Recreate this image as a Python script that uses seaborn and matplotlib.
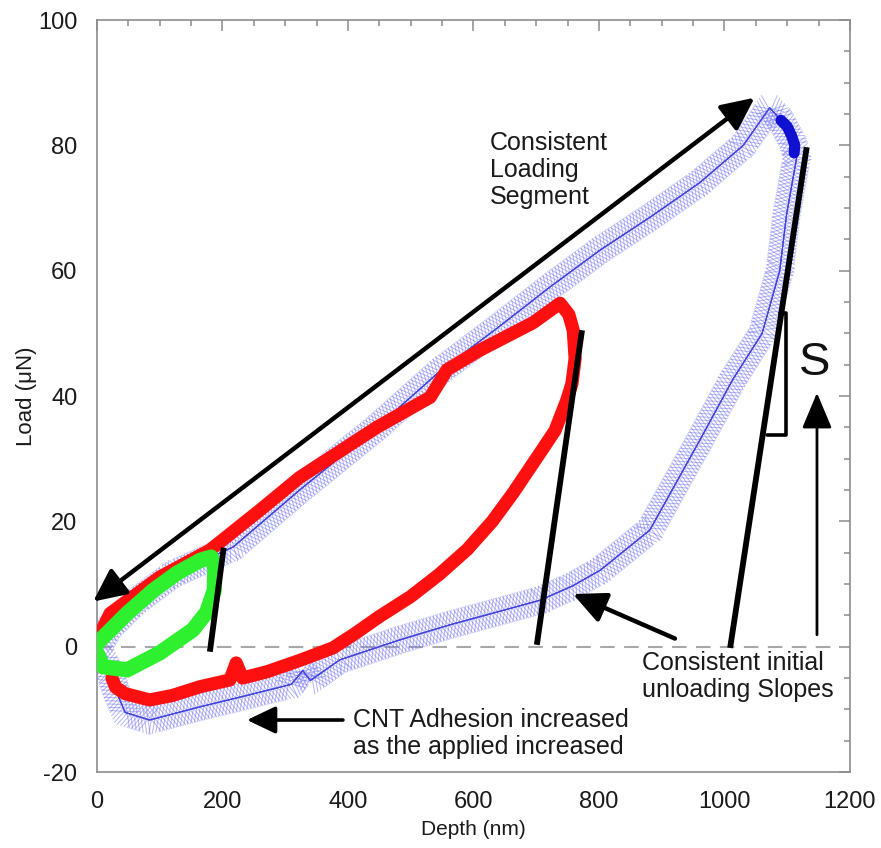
import matplotlib
matplotlib.use("Agg")
import matplotlib.pyplot as plt
import matplotlib.patheffects as pe
import seaborn as sns
import pandas as pd

# ---------------- data ----------------
blue_x = [0, 20, 60, 120, 217, 323, 446, 547, 640, 722, 802, 881, 960, 1030, 1072,
          1090, 1109, 1115, 1099, 1088, 1060, 1013, 961, 881, 802, 758, 706, 563,
          483, 387, 340, 328, 310, 230, 164, 84, 45, 32, 20, 8]
blue_y = [-0.5, 3, 7, 11.5, 15.9, 25, 35, 44, 51, 57.4, 63.3, 68.5, 74, 80, 86,
          84, 80.4, 78, 69, 60, 50, 42.6, 33, 18.6, 12.2, 9.7, 7.4, 3.5,
          1.1, -2.1, -5.4, -3.8, -6.0, -8.0, -9.6, -11.7, -10.5, -7.4, -4, -1.5]
blue_hold_x = [1090, 1100, 1107, 1112, 1111]
blue_hold_y = [84, 83, 81.5, 80, 78.8]

red_x = [0, 21, 100, 180, 260, 323, 446, 531, 558, 610, 695, 738,
         752, 759, 762, 757, 749, 730, 706, 663, 630, 590, 545, 500, 450, 410, 376,
         323, 271, 232, 222, 212, 164, 120, 84, 45, 30, 24]
red_y = [1, 5.3, 11.1, 15.4, 21.8, 27, 35, 39.8, 44.2, 47.3, 51.7, 54.8,
         53, 50.5, 46, 42, 39.4, 34.5, 30.9, 24.5, 20, 15.5, 11.5, 8, 4.8, 2, -0.2,
         -2.2, -4.0, -5.0, -2.6, -5.3, -6.4, -7.8, -8.5, -7.5, -6.5, -5]

green_x = [0, 20, 48, 90, 127, 165, 182, 188, 187, 175, 153, 100, 48, 10, 0]
green_y = [0.5, 2.5, 5.3, 9, 11.7, 13.8, 14.3, 12.5, 9, 5.5, 2.7, -1, -3.7, -3.2, -1]

# unloading-slope guide lines (depth, load)
slope_green_x = [180, 202]
slope_green_y = [-0.8, 15.8]
slope_red_x = [701, 773]
slope_red_y = [0.3, 50.5]
slope_blue_x = [1009, 1131]
slope_blue_y = [-0.2, 79.7]
tri_x = [1088, 1098, 1098, 1068]
tri_y = [53.2, 53.2, 33.8, 33.8]

x_ticks = [0, 200, 400, 600, 800, 1000, 1200]
y_ticks = [-20, 0, 20, 40, 60, 80, 100]

# ---------------- figure ----------------
sns.set_style("white")
plt.rcParams['font.family'] = ['Liberation Sans', 'DejaVu Sans']
plt.rcParams['axes.unicode_minus'] = False

fig = plt.figure(figsize=(8.81, 8.48), dpi=100)
ax = fig.add_axes([0.110, 0.0896, 0.8548, 0.8868])

ax.axhline(0, color='#a8a8a8', lw=1.5, ls=(0, (7, 4.5)), zorder=1)

# blue (large indent) - hatched band
tick_col = (0.42, 0.42, 0.98, 0.5)
sp, ln, tw = 2.6, 4.2, 0.7
blue_pe = [
    pe.withTickedStroke(angle=65, spacing=sp, length=ln, linewidth=tw, foreground=tick_col),
    pe.withTickedStroke(angle=-115, spacing=sp, length=ln, linewidth=tw, foreground=tick_col),
    pe.withTickedStroke(angle=115, spacing=sp, length=ln, linewidth=tw, foreground=tick_col),
    pe.withTickedStroke(angle=-65, spacing=sp, length=ln, linewidth=tw, foreground=tick_col),
    pe.Normal(),
]
dfb = pd.DataFrame({"x": blue_x, "y": blue_y})
sns.lineplot(data=dfb, x="x", y="y", sort=False, estimator=None, ax=ax,
             color=(0.25, 0.25, 0.85, 0.6), lw=0.8, path_effects=blue_pe, zorder=2)
dfh = pd.DataFrame({"x": blue_hold_x, "y": blue_hold_y})
sns.lineplot(data=dfh, x="x", y="y", sort=False, estimator=None, ax=ax,
             color='#1010d0', lw=8, solid_capstyle='round', zorder=2)

# red (medium indent)
dfr = pd.DataFrame({"x": red_x, "y": red_y})
sns.lineplot(data=dfr, x="x", y="y", sort=False, estimator=None, ax=ax,
             color='#ff1010', lw=9.5, solid_capstyle='round', solid_joinstyle='round', zorder=3)

# green (small indent)
dfg = pd.DataFrame({"x": green_x, "y": green_y})
sns.lineplot(data=dfg, x="x", y="y", sort=False, estimator=None, ax=ax,
             color='#2ef02e', lw=11, solid_capstyle='round', solid_joinstyle='round', zorder=4)

# slope lines
for sx, sy in [(slope_green_x, slope_green_y), (slope_red_x, slope_red_y), (slope_blue_x, slope_blue_y)]:
    ax.plot(sx, sy, color='black', lw=4.2, solid_capstyle='butt', zorder=5)
ax.plot(tri_x, tri_y, color='black', lw=2.6, zorder=5)

# arrows
big = dict(arrowstyle='<|-|>,head_length=0.8,head_width=0.38', lw=3.2, color='black',
           mutation_scale=25, shrinkA=0, shrinkB=0)
ax.annotate("", xy=(1048, 87.6), xytext=(-6, 7.2), arrowprops=big, annotation_clip=False, zorder=6)
ax.annotate("", xy=(758.6, 8.4), xytext=(921, 1.3),
            arrowprops=dict(arrowstyle='-|>,head_length=0.8,head_width=0.38', lw=3.2, color='black',
                            mutation_scale=25, shrinkA=0, shrinkB=0), zorder=6)
ax.annotate("", xy=(239, -11.7), xytext=(392, -11.7),
            arrowprops=dict(arrowstyle='-|>,head_length=0.8,head_width=0.38', lw=2.6, color='black',
                            mutation_scale=22, shrinkA=0, shrinkB=0), zorder=6)
ax.annotate("", xy=(1147.4, 40.5), xytext=(1147.4, 1.9),
            arrowprops=dict(arrowstyle='-|>,head_length=1.0,head_width=0.42', lw=2.0, color='black',
                            mutation_scale=22, shrinkA=0, shrinkB=0), zorder=6)

# texts
ax.text(626, 76.1, "Consistent\nLoading\nSegment", fontsize=18, ha='left', va='center',
        color='#1a1a1a', linespacing=1.15)
ax.text(1144, 45.3, "S", fontsize=34, ha='center', va='center', color='#111111')
ax.text(868.5, -4.8, "Consistent initial\nunloading Slopes", fontsize=18, ha='left', va='center',
        color='#1a1a1a', linespacing=1.15)
ax.text(408, -13.9, "CNT Adhesion increased\nas the applied increased", fontsize=18, ha='left',
        va='center', color='#1a1a1a', linespacing=1.15)

# axes styling
ax.set_xlim(0, 1200)
ax.set_ylim(-20, 100)
ax.set_xticks(x_ticks)
ax.set_yticks(y_ticks)
ax.set_xticks(range(0, 1201, 50), minor=True)
ax.set_yticks(range(-20, 101, 5), minor=True)
ax.tick_params(which='both', direction='in', top=True, right=True, color='#8c8c8c', width=1.1)
ax.tick_params(which='major', length=8)
ax.tick_params(which='minor', length=4.5)
ax.tick_params(axis='x', which='major', labelsize=17, pad=14, labelcolor='#1a1a1a')
ax.tick_params(axis='y', which='major', labelsize=17, pad=14, labelcolor='#1a1a1a')
for s in ax.spines.values():
    s.set_color('#8c8c8c')
    s.set_linewidth(1.2)
ax.set_xlabel("Depth (nm)", fontsize=15, color='#1a1a1a', labelpad=5)
ax.set_ylabel("Load (\u03bcN)", fontsize=16, color='#1a1a1a', labelpad=1)

fig.savefig("out.png", dpi=100)
